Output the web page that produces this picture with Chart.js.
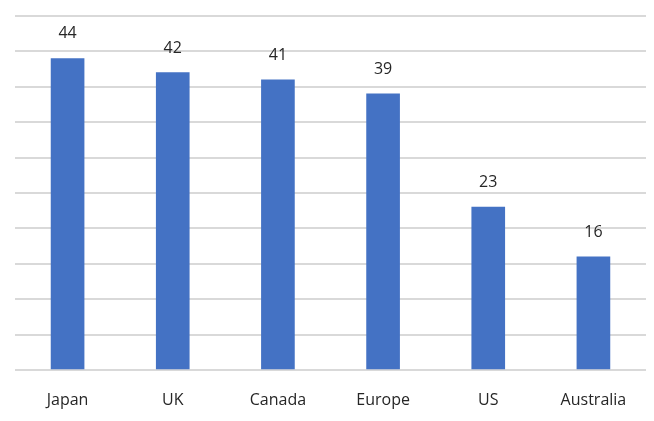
<!DOCTYPE html>
<html>
<head>
<meta charset="utf-8">
<script src="https://cdn.jsdelivr.net/npm/chart.js@4/dist/chart.umd.min.js"></script>
<style>
  html, body { margin: 0; padding: 0; background: #fff; }
  #wrap { width: 654px; height: 421px; position: relative; }
</style>
</head>
<body>
<div id="wrap"><canvas id="chart"></canvas></div>
<script>
// ── Data ────────────────────────────────────────────────
const countries = ['Japan', 'UK', 'Canada', 'Europe', 'US', 'Australia'];
const scores    = [44, 42, 41, 39, 23, 16];
const yMax  = 50;
const yStep = 5;

const FONT = "'Open Sans', 'Noto Sans', sans-serif";
const TEXT = '#262626';

// Value labels above each bar (Excel-style data labels)
const barValues = {
  id: 'barValues',
  afterDatasetsDraw(chart) {
    const { ctx } = chart;
    const meta = chart.getDatasetMeta(0);
    ctx.save();
    ctx.font = `16px ${FONT}`;
    ctx.fillStyle = TEXT;
    ctx.textAlign = 'center';
    ctx.textBaseline = 'alphabetic';
    meta.data.forEach((bar, i) => {
      ctx.fillText(String(scores[i]), bar.x, bar.y - 20);
    });
    ctx.restore();
  }
};

new Chart(document.getElementById('chart'), {
  type: 'bar',
  data: {
    labels: countries,
    datasets: [{
      data: scores,
      backgroundColor: '#4472C4',
      borderWidth: 0,
      barThickness: 33,
    }]
  },
  options: {
    responsive: true, maintainAspectRatio: false,
    animation: false,
    layout: { padding: { left: 15, right: 8, top: 16, bottom: 0 } },
    plugins: { legend: { display: false }, tooltip: { enabled: false } },
    scales: {
      x: {
        grid: { display: false },
        border: { display: false },
        ticks: { color: TEXT, font: { family: FONT, size: 16 }, padding: 13 },
        afterFit: s => { s.height = 51; },
      },
      y: {
        min: 0, max: yMax,
        ticks: { display: false, stepSize: yStep },
        grid: { color: '#d9d9d9', lineWidth: 2, drawTicks: false },
        border: { display: false },
      }
    }
  },
  plugins: [barValues]
});
</script>
</body>
</html>
